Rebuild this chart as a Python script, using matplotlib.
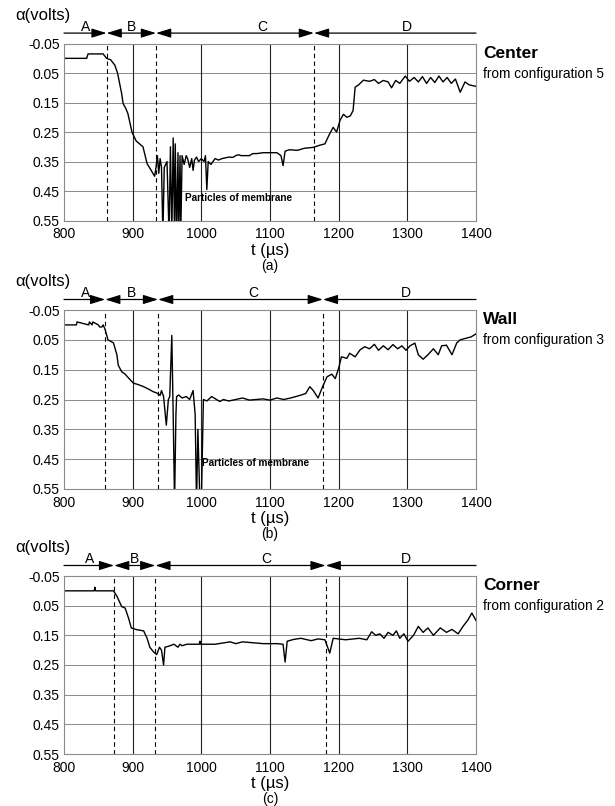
import matplotlib
matplotlib.use("Agg")
import matplotlib.pyplot as plt

plt.rcParams['font.family'] = ['Liberation Sans', 'DejaVu Sans']

# ---- data (t in us, alpha in volts) ----
# (a) Center, configuration 5
t_center = [800, 833, 835, 857, 862, 868, 874, 878, 881, 884, 886, 890, 893, 899, 905, 915, 921, 927, 932,
            934, 936, 938, 940, 942, 944, 946, 950, 953, 955, 957, 959, 961, 962, 964, 966, 967, 969, 970,
            972, 975, 978, 980, 983, 986, 988, 990, 993, 996, 1000, 1004, 1006, 1008, 1010, 1014, 1020,
            1025, 1030, 1040, 1046, 1050, 1054, 1058, 1070, 1075, 1081, 1090, 1100, 1110, 1116, 1119, 1122,
            1128, 1140, 1150, 1163, 1172, 1180, 1186, 1192, 1197, 1202, 1207, 1212, 1217, 1221, 1224, 1229,
            1236, 1245, 1252, 1258, 1265, 1272, 1277, 1283, 1289, 1297, 1303, 1310, 1316, 1322, 1328, 1334,
            1340, 1346, 1352, 1358, 1364, 1370, 1377, 1384, 1390, 1400]
a_center = [0.0, 0.0, -0.015, -0.015, 0.0, 0.005, 0.023, 0.05, 0.085, 0.12, 0.153, 0.17, 0.187, 0.25, 0.28,
            0.30, 0.357, 0.38, 0.40, 0.37, 0.33, 0.39, 0.34, 0.37, 0.60, 0.37, 0.35, 0.60, 0.30, 0.60, 0.27,
            0.60, 0.29, 0.60, 0.32, 0.60, 0.33, 0.60, 0.33, 0.36, 0.33, 0.34, 0.37, 0.34, 0.38, 0.345, 0.335,
            0.35, 0.34, 0.35, 0.33, 0.445, 0.35, 0.36, 0.34, 0.345, 0.34, 0.335, 0.336, 0.33, 0.327, 0.33,
            0.33, 0.323, 0.323, 0.32, 0.32, 0.32, 0.33, 0.364, 0.315, 0.31, 0.312, 0.305, 0.302, 0.295, 0.29,
            0.26, 0.234, 0.25, 0.21, 0.19, 0.2, 0.195, 0.177, 0.098, 0.09, 0.074, 0.078, 0.072, 0.085, 0.075,
            0.08, 0.1, 0.075, 0.085, 0.06, 0.078, 0.065, 0.08, 0.062, 0.085, 0.065, 0.082, 0.06, 0.08, 0.065,
            0.085, 0.07, 0.115, 0.08, 0.09, 0.095]

# (b) Wall, configuration 3
t_wall = [800, 818, 819, 836, 837, 841, 842, 850, 852, 855, 857, 860, 864, 868, 872, 877, 879, 884, 889,
          894, 901, 908, 916, 923, 930, 935, 940, 942, 945, 949, 952, 954, 957, 959, 961, 963, 964, 967, 972,
          978, 983, 988, 991, 993, 995, 998, 1000, 1003, 1008, 1015, 1022, 1027, 1032, 1040, 1050, 1060, 1070,
          1080, 1090, 1100, 1110, 1120, 1130, 1144, 1152, 1158, 1163, 1170, 1177, 1183, 1190, 1195, 1200,
          1204, 1212, 1216, 1224, 1231, 1238, 1245, 1252, 1258, 1265, 1272, 1279, 1286, 1292, 1298, 1304,
          1311, 1316, 1323, 1330, 1338, 1345, 1350, 1357, 1365, 1372, 1377, 1385, 1393, 1400]
a_wall = [0.0, 0.0, -0.01, 0.0, -0.01, 0.0, -0.01, 0.0, 0.007, 0.007, 0.0, 0.016, 0.05, 0.055, 0.06, 0.1,
          0.135, 0.157, 0.165, 0.178, 0.195, 0.2, 0.207, 0.215, 0.224, 0.228, 0.236, 0.22, 0.24, 0.336,
          0.25, 0.24, 0.035, 0.30, 0.60, 0.30, 0.24, 0.235, 0.245, 0.24, 0.25, 0.22, 0.30, 0.60, 0.35, 0.60,
          0.60, 0.25, 0.255, 0.24, 0.25, 0.257, 0.25, 0.255, 0.25, 0.245, 0.252, 0.25, 0.248, 0.252, 0.245,
          0.25, 0.245, 0.236, 0.23, 0.207, 0.22, 0.245, 0.205, 0.174, 0.165, 0.18, 0.145, 0.107, 0.112,
          0.095, 0.107, 0.084, 0.073, 0.08, 0.065, 0.085, 0.07, 0.083, 0.066, 0.08, 0.07, 0.085, 0.07, 0.061,
          0.1, 0.115, 0.1, 0.08, 0.1, 0.07, 0.068, 0.1, 0.06, 0.05, 0.045, 0.04, 0.03]

# (c) Corner, configuration 2
t_corner = [800, 844, 845, 846, 872, 877, 884, 889, 894, 898, 906, 916, 921, 925, 930, 935, 939, 942, 945,
            947, 952, 960, 966, 969, 972, 979, 990, 997, 998, 999, 1010, 1020, 1042, 1050, 1060, 1075, 1090,
            1110, 1119, 1122, 1125, 1134, 1145, 1160, 1170, 1180, 1187, 1192, 1210, 1230, 1241, 1248, 1254,
            1260, 1266, 1272, 1279, 1284, 1289, 1295, 1301, 1309, 1316, 1323, 1330, 1338, 1348, 1357, 1365,
            1374, 1381, 1388, 1394, 1400]
a_corner = [0.0, 0.0, -0.012, 0.0, 0.0, 0.018, 0.053, 0.058, 0.092, 0.125, 0.131, 0.135, 0.16, 0.19, 0.205,
            0.215, 0.19, 0.2, 0.25, 0.19, 0.187, 0.18, 0.19, 0.18, 0.185, 0.18, 0.18, 0.18, 0.17, 0.18, 0.18,
            0.18, 0.172, 0.178, 0.172, 0.175, 0.178, 0.178, 0.18, 0.24, 0.17, 0.164, 0.16, 0.168, 0.162,
            0.165, 0.21, 0.16, 0.165, 0.16, 0.165, 0.138, 0.15, 0.145, 0.16, 0.14, 0.15, 0.135, 0.16, 0.145,
            0.17, 0.15, 0.12, 0.14, 0.125, 0.15, 0.125, 0.14, 0.13, 0.145, 0.12, 0.099, 0.075, 0.1]

# phase boundaries A|B, B|C, C|D and where the letters sit
bounds = [[862, 934, 1164], [860, 937, 1177], [873, 933, 1181]]
letter_x = [[831, 899, 1088, 1300], [831, 899, 1075, 1298], [838, 902, 1095, 1298]]
phases = ['A', 'B', 'C', 'D']

names = ['Center', 'Wall', 'Corner']
configs = ['from configuration 5', 'from configuration 3', 'from configuration 2']
tags = ['(a)', '(b)', '(c)']
traces = [(t_center, a_center), (t_wall, a_wall), (t_corner, a_corner)]

yticks = [-0.05, 0.05, 0.15, 0.25, 0.35, 0.45, 0.55]
xticks = [800, 900, 1000, 1100, 1200, 1300, 1400]

W, H = 615, 806
fig = plt.figure(figsize=(W / 100, H / 100), dpi=100)

# axes boxes in pixels: top, bottom
boxes = [(43.6, 220.5), (310, 489), (576, 754)]
x0, x1 = 64, 476

for i in range(3):
    top, bot = boxes[i]
    ax = fig.add_axes([x0 / W, 1 - bot / H, (x1 - x0) / W, (bot - top) / H])
    t, a = traces[i]
    ax.plot(t, a, color='black', lw=1.0)

    ax.set_xlim(800, 1400)
    ax.set_ylim(0.55, -0.05)
    ax.set_xticks(xticks)
    ax.set_yticks(yticks)
    ax.set_yticklabels(['-0.05', '0.05', '0.15', '0.25', '0.35', '0.45', '0.55'])
    ax.tick_params(length=0, labelsize=10, pad=3)
    ax.tick_params(axis='x', pad=5)
    for y in yticks[1:-1]:
        ax.axhline(y, color='#8a8a8a', lw=0.7, zorder=0)
    for x in xticks[1:-1]:
        ax.axvline(x, color='#222222', lw=0.8, zorder=0)
    for s in ax.spines.values():
        s.set_color('#8a8a8a')
        s.set_linewidth(0.8)

    for b in bounds[i]:
        ax.axvline(b, color='black', lw=0.8, ls=(0, (4, 3)), zorder=1)

    # phase arrows above the axes
    h = bot - top
    ya = 1 + 10.5 / h
    edges = [800] + bounds[i] + [1400]
    styles = ['-|>', '<|-|>', '<|-|>', '<|-']
    for k in range(4):
        ax.annotate('', xy=(edges[k + 1], ya), xytext=(edges[k], ya),
                    xycoords=('data', 'axes fraction'), textcoords=('data', 'axes fraction'),
                    annotation_clip=False,
                    arrowprops=dict(arrowstyle=styles[k] + ',head_length=0.9,head_width=0.28',
                                    mutation_scale=10, color='black', lw=0.9,
                                    shrinkA=0, shrinkB=0))
        ax.text(letter_x[i][k], ya + 2.5 / h, phases[k], transform=ax.get_xaxis_transform(),
                ha='center', va='baseline', fontsize=10, clip_on=False)

    ax.set_xlabel('t (µs)', fontsize=12, labelpad=1)
    fig.text(15 / W, 1 - (top - 28.5) / H, 'α(volts)', fontsize=12, va='center', ha='left')
    fig.text(483 / W, 1 - (top + 10) / H, names[i], fontsize=12.5, fontweight='bold', va='center')
    fig.text(483 / W, 1 - (top + 30) / H, configs[i], fontsize=9.8, va='center')
    fig.text((x0 + x1) / 2 / W, 1 - (bot + 45) / H, tags[i], fontsize=10, ha='center', va='center')

    if i == 0:
        ax.text(976, 0.475, 'Particles of membrane', fontsize=7.2, fontweight='bold', va='center')
    if i == 1:
        ax.text(1001, 0.463, 'Particles of membrane', fontsize=7.2, fontweight='bold', va='center')

fig.savefig('out.png', dpi=100)
